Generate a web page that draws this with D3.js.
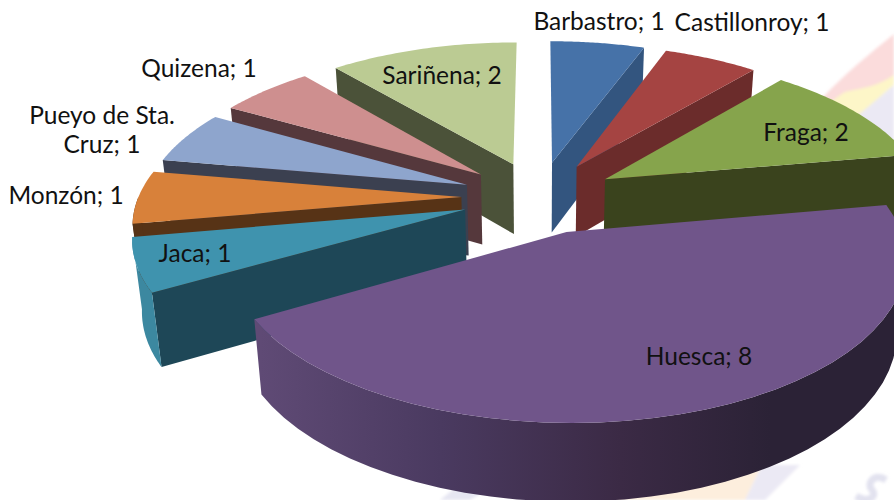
<!DOCTYPE html>
<html><head><meta charset="utf-8">
<script src="https://cdn.jsdelivr.net/npm/d3@7/dist/d3.min.js"></script>
<style>html,body{margin:0;padding:0;background:#fff}svg{display:block}text{font-family:Lato,"Open Sans",sans-serif;fill:#111}</style>
</head><body><svg id="c" width="894" height="500"></svg>
<script>
const categories=["Barbastro","Castillonroy","Fraga","Huesca","Jaca","Monzón","Pueyo de Sta. Cruz","Quizena","Sariñena"];
const values=[1,1,2,8,1,1,1,1,2];
const topColors=["#4672a8","#a54442","#86a44c","#70558a","#3f93ae","#d8813a","#8ea5cd","#ce8f8f","#bbcb93"];
const wallColors=["#33557f","#6b2c2b","#3a431d","#4a3a60","#1e4757","#573316","#3b4050","#55383c","#4b5239"];
const rimColors=["#33557f","#6b2c2b","#3a431d","#4a3a60","#3c88a0","#573316","#3b4050","#55383c","#4b5239"];
const labelLines=[["Barbastro; 1"],["Castillonroy; 1"],["Fraga; 2"],["Huesca; 8"],["Jaca; 1"],["Monzón; 1"],["Pueyo de Sta.","Cruz; 1"],["Quizena; 1"],["Sariñena; 2"]];
const labelAt=[[599,22],[752,23],[806,133],[699,357],[195,254],[66,196],[102,116],[199,69],[442,76]];

const CX=539,CY=197,F=1.035,T=0.48,P=0.00049,R=312,E=75;
const svg=d3.select("#c");
const defs=svg.append("defs");
defs.append("filter").attr("id","soft").append("feGaussianBlur").attr("stdDeviation",1.5);

// faint watermark behind the chart
const wm=svg.append("g").attr("filter","url(#soft)");
wm.append("path").attr("d","M894 34C860 62 830 85 800 125L835 125C860 95 875 90 894 75Z").attr("fill","#fbdcdc");
wm.append("path").attr("d","M894 75C875 88 860 88 845 92C835 98 825 105 815 125L850 130C860 120 880 95 894 85Z").attr("fill","#fdf6c8");
wm.append("path").attr("d","M894 85L855 118L894 150Z").attr("fill","#ebe9f4");
wm.append("path").attr("d","M455 488L490 488L470 500H440Z").attr("fill","#e6e6f2");
wm.append("path").attr("d","M600 480L762 465L745 500H590Z").attr("fill","#fdeedd");
wm.append("path").attr("d","M762 465L800 465L765 500H745Z").attr("fill","#ebe9f4");
wm.append("path").attr("d","M886 480C874 472 866 484 872 490C878 496 868 504 856 496").attr("fill","none").attr("stroke","#e2e2ef").attr("stroke-width",7);

const pie=d3.pie().value(d=>d).sort(null);
const arcs=pie(values);
const depth=a=>Math.cos((a.startAngle+a.endAngle)/2);
const plane=(a,t,r)=>{const m=(a.startAngle+a.endAngle)/2;
  return [E*Math.sin(m)+r*Math.sin(t),E*Math.cos(m)+r*Math.cos(t)];};
const proj=([X,Z])=>{const D=1+P*Z;return [CX+F*X/D,CY-T*Z/D,D];};
const upper=(a,t,r)=>proj(plane(a,t,r));
const lower=(a,t,r)=>{const [x,y,D]=upper(a,t,r);const h=71/Math.sqrt(D);return [x+(CX-x)*h/3000,y+h];};
const line=d3.line();
const angles=a=>d3.range(0,41).map(i=>a.startAngle+(a.endAngle-a.startAngle)*i/40);

const grad=defs.append("linearGradient").attr("id","rim").attr("gradientUnits","userSpaceOnUse")
  .attr("x1",261).attr("x2",860).attr("y1",0).attr("y2",0);
[[0,"#5f4a75"],[.3,"#4a3a60"],[.6,"#3b2a45"],[.85,"#2b2236"],[1,"#2b2236"]].forEach(s=>grad.append("stop").attr("offset",s[0]).attr("stop-color",s[1]));

const order=arcs.map((a,i)=>i).sort((p,q)=>depth(arcs[q])-depth(arcs[p]));
const sl=svg.selectAll("g.slice").data(order).join("g").attr("class","slice");
sl.each(function(i){
  const a=arcs[i],g=d3.select(this),mid=(a.startAngle+a.endAngle)/2;
  const edge=mid<Math.PI?a.endAngle:a.startAngle;
  if(values[i]<8){
    g.append("path").attr("fill",wallColors[i]).attr("d",line([
      upper(a,0,0),upper(a,edge,R),lower(a,edge,R),lower(a,0,0)])+"Z");
  }
  const ts=angles(a).filter(t=>Math.cos(t)<0);
  if(ts.length>1){
    g.append("path").attr("fill",values[i]===8?"url(#rim)":rimColors[i]).attr("d",line(
      ts.map(t=>upper(a,t,R)).concat(ts.slice().reverse().map(t=>lower(a,t,R))))+"Z");
  }
  g.append("path").attr("fill",topColors[i]).attr("d",line(
    [upper(a,0,0)].concat(angles(a).map(t=>upper(a,t,R))))+"Z");
});
categories.forEach((c,i)=>{
  const t=svg.append("text").attr("font-size",24.5).attr("text-anchor","middle");
  labelLines[i].forEach((l,k)=>t.append("tspan").attr("x",labelAt[i][0]).attr("y",labelAt[i][1]+8+k*29).text(l));
});
</script></body></html>
